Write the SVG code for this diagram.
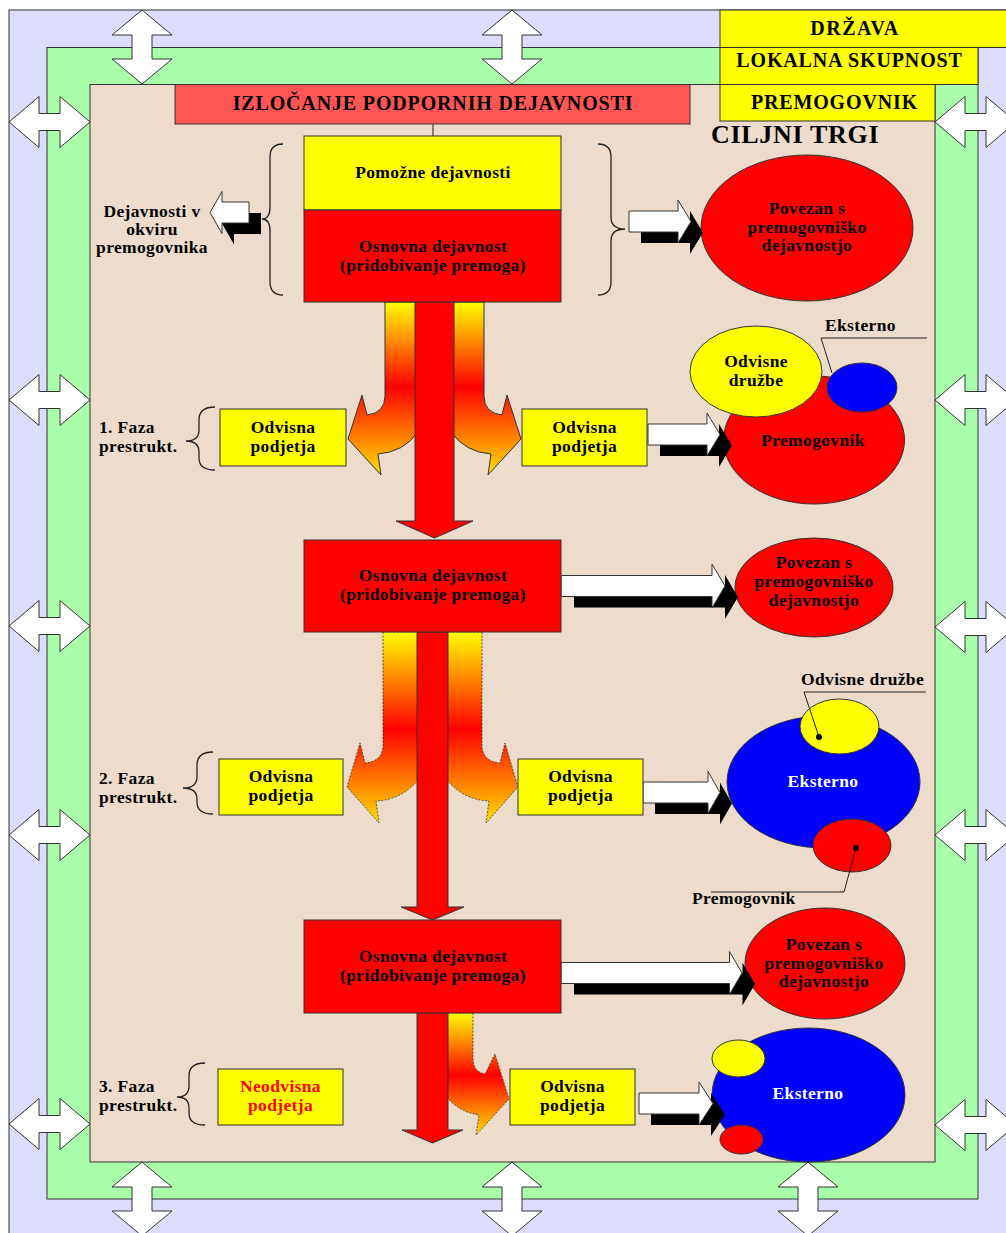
<svg xmlns="http://www.w3.org/2000/svg" xmlns:xlink="http://www.w3.org/1999/xlink" width="1006" height="1233" viewBox="0 0 1006 1233">
<style>
.t{font-family:"Liberation Serif","Times New Roman",serif;font-weight:bold;font-size:17.5px;fill:#000;text-anchor:middle;letter-spacing:0.35px}
.l{text-anchor:start}
.h{font-size:20px;letter-spacing:0.85px}
.w{fill:#fff}
.rt{fill:#f00}
.b{stroke:#333;stroke-width:1}
.dbl{fill:#fff;stroke:#333;stroke-width:1}
.blk{fill:#fff;stroke:#333;stroke-width:1}
.sh{fill:#000}
.brace{fill:none;stroke:#222;stroke-width:1.3}
.lead{fill:none;stroke:#222;stroke-width:1}
.dash{stroke:#333;stroke-width:0.8;stroke-dasharray:2 1.5}
</style>
<defs>
<path id="dv" d="M0 0 L30 25 L10 25 L10 49 L30 49 L0 74 L-30 49 L-10 49 L-10 25 L-30 25 Z"/>
<path id="dh" d="M0 0 L30 -25.5 L30 -8.5 L51 -8.5 L51 -25.5 L81 0 L51 25.5 L51 8.5 L30 8.5 L30 25.5 Z"/>
<linearGradient id="g1" gradientUnits="userSpaceOnUse" x1="0" y1="302" x2="0" y2="475">
<stop offset="0" stop-color="#ffff00"/><stop offset="0.49" stop-color="#ff0000"/><stop offset="1" stop-color="#ffe000"/>
</linearGradient>
<linearGradient id="g2" gradientUnits="userSpaceOnUse" x1="0" y1="632" x2="0" y2="823">
<stop offset="0" stop-color="#ffff00"/><stop offset="0.51" stop-color="#ff0000"/><stop offset="1" stop-color="#ffe000"/>
</linearGradient>
<linearGradient id="g3" gradientUnits="userSpaceOnUse" x1="0" y1="1013" x2="0" y2="1135">
<stop offset="0" stop-color="#ffff00"/><stop offset="0.51" stop-color="#ff0000"/><stop offset="1" stop-color="#ffe000"/>
</linearGradient>
</defs>

<g id="background">
<rect x="9" y="10" width="1010" height="1240" fill="#ddddff" class="b"/>
<rect x="47" y="47.5" width="931" height="1151.5" fill="#aaffaa" class="b"/>
<rect x="90" y="84.5" width="845" height="1077.5" fill="#eddccc" class="b"/>
</g>

<g id="level-boxes">
<g id="drzava"><rect x="720" y="10" width="300" height="37.5" fill="#ffff00" class="b"/><text class="t h" x="855" y="35" style="letter-spacing:1.5px">DRŽAVA</text></g>
<g id="lokalna"><rect x="720" y="47.5" width="258" height="37" fill="#ffff00" class="b"/><text class="t h" x="849.5" y="66.5">LOKALNA SKUPNOST</text></g>
<g id="premogovnik-top"><rect x="720" y="84.5" width="215" height="36.5" fill="#ffff00" class="b"/><text class="t h" x="834.5" y="109">PREMOGOVNIK</text></g>
<g id="ciljni"><text class="t l" x="711" y="143" style="font-size:26px;letter-spacing:0.7px">CILJNI TRGI</text></g>
</g>

<g id="double-arrows">
<use href="#dv" xlink:href="#dv" class="dbl" transform="translate(142,10)"/>
<use href="#dv" xlink:href="#dv" class="dbl" transform="translate(512,10)"/>
<use href="#dv" xlink:href="#dv" class="dbl" transform="translate(142,1162)"/>
<use href="#dv" xlink:href="#dv" class="dbl" transform="translate(512,1162)"/>
<use href="#dv" xlink:href="#dv" class="dbl" transform="translate(808,1162)"/>
<use href="#dh" xlink:href="#dh" class="dbl" transform="translate(9,122)"/>
<use href="#dh" xlink:href="#dh" class="dbl" transform="translate(9,400)"/>
<use href="#dh" xlink:href="#dh" class="dbl" transform="translate(9,626)"/>
<use href="#dh" xlink:href="#dh" class="dbl" transform="translate(9,835)"/>
<use href="#dh" xlink:href="#dh" class="dbl" transform="translate(9,1124)"/>
<use href="#dh" xlink:href="#dh" class="dbl" transform="translate(935,122)"/>
<use href="#dh" xlink:href="#dh" class="dbl" transform="translate(935,400)"/>
<use href="#dh" xlink:href="#dh" class="dbl" transform="translate(935,627)"/>
<use href="#dh" xlink:href="#dh" class="dbl" transform="translate(935,835)"/>
<use href="#dh" xlink:href="#dh" class="dbl" transform="translate(935,1125)"/>
</g>

<g id="header"><rect x="175" y="84.5" width="515" height="39.5" fill="#ff5555" class="b"/><text class="t h" x="433" y="110">IZLOČANJE PODPORNIH DEJAVNOSTI</text></g>

<g id="target-ellipses">
<g id="povezan-1"><ellipse cx="807" cy="228" rx="106" ry="73" fill="#f00" class="b"/><text class="t" x="807" y="214">Povezan s</text><text class="t" x="807" y="233">premogovniško</text><text class="t" x="807" y="251">dejavnostjo</text></g>
<g id="faza1-target">
<ellipse cx="814" cy="440" rx="90.5" ry="64" fill="#f00" class="b"/>
<ellipse cx="756" cy="371.5" rx="66" ry="45.5" fill="#ffff00" class="b"/>
<ellipse cx="862" cy="387.5" rx="35" ry="24.5" fill="#0000ff" class="b"/>
<text class="t" x="813" y="446">Premogovnik</text>
<text class="t" x="756" y="367">Odvisne</text><text class="t" x="756" y="386">družbe</text>
<text class="t l" x="825" y="331">Eksterno</text>
</g>
<g id="povezan-2"><ellipse cx="814" cy="587.5" rx="79" ry="49.5" fill="#f00" class="b"/><text class="t" x="814" y="568">Povezan s</text><text class="t" x="814" y="587">premogovniško</text><text class="t" x="814" y="606">dejavnostjo</text></g>
<g id="faza2-target">
<ellipse cx="823.5" cy="782" rx="96.5" ry="66" fill="#0000ff" class="b"/>
<ellipse cx="839.5" cy="726.5" rx="39.5" ry="27.5" fill="#ffff00" class="b"/>
<ellipse cx="852" cy="845.5" rx="39" ry="26.5" fill="#f00" class="b"/>
<text class="t w" x="823" y="787">Eksterno</text>
<text class="t l" x="801" y="685">Odvisne družbe</text>
<text class="t l" x="692" y="904">Premogovnik</text>
</g>
<g id="povezan-3"><ellipse cx="825" cy="963.5" rx="80" ry="55.5" fill="#f00" class="b"/><text class="t" x="824" y="950">Povezan s</text><text class="t" x="824" y="969">premogovniško</text><text class="t" x="824" y="987">dejavnostjo</text></g>
<g id="faza3-target">
<ellipse cx="808.5" cy="1095" rx="96.5" ry="67" fill="#0000ff" class="b"/>
<ellipse cx="738.5" cy="1058.5" rx="26.5" ry="18.5" fill="#ffff00" class="b"/>
<ellipse cx="741.5" cy="1139.5" rx="21.5" ry="14.5" fill="#f00" class="b"/>
<text class="t w" x="808" y="1099">Eksterno</text>
</g>
</g>

<g id="connectors">
<line x1="433" y1="124" x2="433" y2="136" class="lead"/>
<polyline points="927,338 821,338 832,373" class="lead"/>
<polyline points="819,737 804,692 926,692" class="lead"/>
<circle cx="819" cy="737" r="3" fill="#000"/>
<polyline points="856,848 844,892 711,892" class="lead"/>
<circle cx="856" cy="848" r="3" fill="#000"/>
<path d="M385 302 L385 396 Q385 413 367 415 L362 395 L348 439 L381 475 L378 454 Q404 452 418 432 L425 302 Z" fill="url(#g1)" class="b"/>
<path d="M484 302 L484 396 Q484 413 502 415 L507 395 L521 439 L488 475 L491 454 Q465 452 451 432 L444 302 Z" fill="url(#g1)" class="b"/>
<path d="M383 632 L383 745 Q383 761 365 763 L360 743 L347 787 L379 823 L376 801 Q402 800 420 778 L420 632 Z" fill="url(#g2)" class="dash"/>
<path d="M482 632 L482 745 Q482 761 500 763 L505 743 L518 787 L486 823 L489 801 Q463 800 445 778 L445 632 Z" fill="url(#g2)" class="dash"/>
<path d="M445 1013 L473 1013 L473 1058 Q473 1072 485 1074 L495 1054 L509 1099 L476 1135 L479 1115 Q458 1112 445 1095 Z" fill="url(#g3)" class="dash"/>
<path d="M415 302 L454 302 L454 521 L473 521 L434.5 538 L396 521 L415 521 Z" fill="#f00" class="b"/>
<path d="M417 632 L448 632 L448 907 L464 907 L432.5 920 L401 907 L417 907 Z" fill="#f00" class="b"/>
<path d="M417 1013 L448 1013 L448 1130 L463 1130 L432.5 1143 L402 1130 L417 1130 Z" fill="#f00" class="b"/>
<g id="arrow-left">
<path d="M210 212.5 L222 191.5 L222 202 L249 202 L249 223 L222 223 L222 233.5 Z" class="sh" transform="translate(12,11)"/>
<path d="M210 212.5 L222 191.5 L222 202 L249 202 L249 223 L222 223 L222 233.5 Z" class="blk"/>
</g>
<g id="arrow-top">
<path d="M629 211 L678 211 L678 200 L691 221.5 L678 243 L678 232 L629 232 Z" class="sh" transform="translate(12,11)"/>
<path d="M629 211 L678 211 L678 200 L691 221.5 L678 243 L678 232 L629 232 Z" class="blk"/>
</g>
<g id="arrow-f1">
<path d="M648 424 L707 424 L707 413 L720 434.5 L707 456 L707 445 L648 445 Z" class="sh" transform="translate(12,11)"/>
<path d="M648 424 L707 424 L707 413 L720 434.5 L707 456 L707 445 L648 445 Z" class="blk"/>
</g>
<g id="arrow-2">
<path d="M561 575.5 L712 575.5 L712 564 L725 586 L712 608 L712 596.5 L561 596.5 Z" class="sh" transform="translate(13,11)"/>
<path d="M561 575.5 L712 575.5 L712 564 L725 586 L712 608 L712 596.5 L561 596.5 Z" class="blk"/>
</g>
<g id="arrow-f2">
<path d="M643 782 L708 782 L708 771.5 L720 792.5 L708 813.5 L708 803 L643 803 Z" class="sh" transform="translate(12,11)"/>
<path d="M643 782 L708 782 L708 771.5 L720 792.5 L708 813.5 L708 803 L643 803 Z" class="blk"/>
</g>
<g id="arrow-3">
<path d="M561 962.5 L729.5 962.5 L729.5 951.5 L742 973 L729.5 994.5 L729.5 983.5 L561 983.5 Z" class="sh" transform="translate(13,11)"/>
<path d="M561 962.5 L729.5 962.5 L729.5 951.5 L742 973 L729.5 994.5 L729.5 983.5 L561 983.5 Z" class="blk"/>
</g>
<g id="arrow-f3">
<path d="M639 1093 L699 1093 L699 1082 L713 1103.5 L699 1125 L699 1114 L639 1114 Z" class="sh" transform="translate(12,11)"/>
<path d="M639 1093 L699 1093 L699 1082 L713 1103.5 L699 1125 L699 1114 L639 1114 Z" class="blk"/>
</g>
<path d="M283 144 Q270 144 270 157 L270 207 Q270 219 262 219 Q270 219 270 231 L270 282 Q270 295 283 295" class="brace"/>
<path d="M598 144 Q611 144 611 157 L611 217 Q611 229 625 229 Q611 229 611 241 L611 282 Q611 295 598 295" class="brace"/>
<path d="M215 407 Q199 407 199 420 L199 430 Q199 441 186 441 Q199 441 199 452 L199 458 Q199 470 215 470" class="brace"/>
<path d="M213 752 Q197 752 197 765 L197 777 Q197 788 183 788 Q197 788 197 799 L197 802 Q197 814 213 814" class="brace"/>
<path d="M205 1063 Q189 1063 189 1076 L189 1086 Q189 1097 177 1097 Q189 1097 189 1108 L189 1113 Q189 1125 205 1125" class="brace"/>
</g>

<g id="core-box-1">
<rect x="304" y="136" width="257" height="74" fill="#ffff00" class="b"/>
<rect x="304" y="210" width="257" height="92" fill="#f00" class="b"/>
<text class="t" x="433" y="178">Pomožne dejavnosti</text>
<text class="t" x="433" y="252">Osnovna dejavnost</text>
<text class="t" x="433" y="271">(pridobivanje premoga)</text>
</g>
<g id="core-box-2">
<rect x="304" y="540" width="257" height="92" fill="#f00" class="b"/>
<text class="t" x="433" y="581">Osnovna dejavnost</text>
<text class="t" x="433" y="600">(pridobivanje premoga)</text>
</g>
<g id="core-box-3">
<rect x="304" y="920" width="257" height="93" fill="#f00" class="b"/>
<text class="t" x="433" y="962">Osnovna dejavnost</text>
<text class="t" x="433" y="981">(pridobivanje premoga)</text>
</g>

<g id="label-okvir">
<text class="t" x="152" y="217">Dejavnosti v</text>
<text class="t" x="152" y="235">okviru</text>
<text class="t" x="152" y="253">premogovnika</text>
</g>

<g id="faza1">
<text class="t l" x="99" y="433">1. Faza</text><text class="t l" x="99" y="452">prestrukt.</text>
<rect x="220" y="409" width="126" height="57" fill="#ffff00" class="b"/>
<text class="t" x="283" y="433">Odvisna</text><text class="t" x="283" y="452">podjetja</text>
<rect x="522" y="409" width="125" height="57" fill="#ffff00" class="b"/>
<text class="t" x="584.5" y="433">Odvisna</text><text class="t" x="584.5" y="452">podjetja</text>
</g>
<g id="faza2">
<text class="t l" x="99" y="784">2. Faza</text><text class="t l" x="99" y="803">prestrukt.</text>
<rect x="219" y="759" width="124" height="56" fill="#ffff00" class="b"/>
<text class="t" x="281" y="782">Odvisna</text><text class="t" x="281" y="801">podjetja</text>
<rect x="518" y="759" width="125" height="56" fill="#ffff00" class="b"/>
<text class="t" x="580.5" y="782">Odvisna</text><text class="t" x="580.5" y="801">podjetja</text>
</g>
<g id="faza3">
<text class="t l" x="99" y="1092">3. Faza</text><text class="t l" x="99" y="1111">prestrukt.</text>
<rect x="218" y="1069" width="125" height="56" fill="#ffff00" class="b"/>
<text class="t rt" x="280.5" y="1092">Neodvisna</text><text class="t rt" x="280.5" y="1111">podjetja</text>
<rect x="510" y="1069" width="125" height="56" fill="#ffff00" class="b"/>
<text class="t" x="572.5" y="1092">Odvisna</text><text class="t" x="572.5" y="1111">podjetja</text>
</g>
</svg>
